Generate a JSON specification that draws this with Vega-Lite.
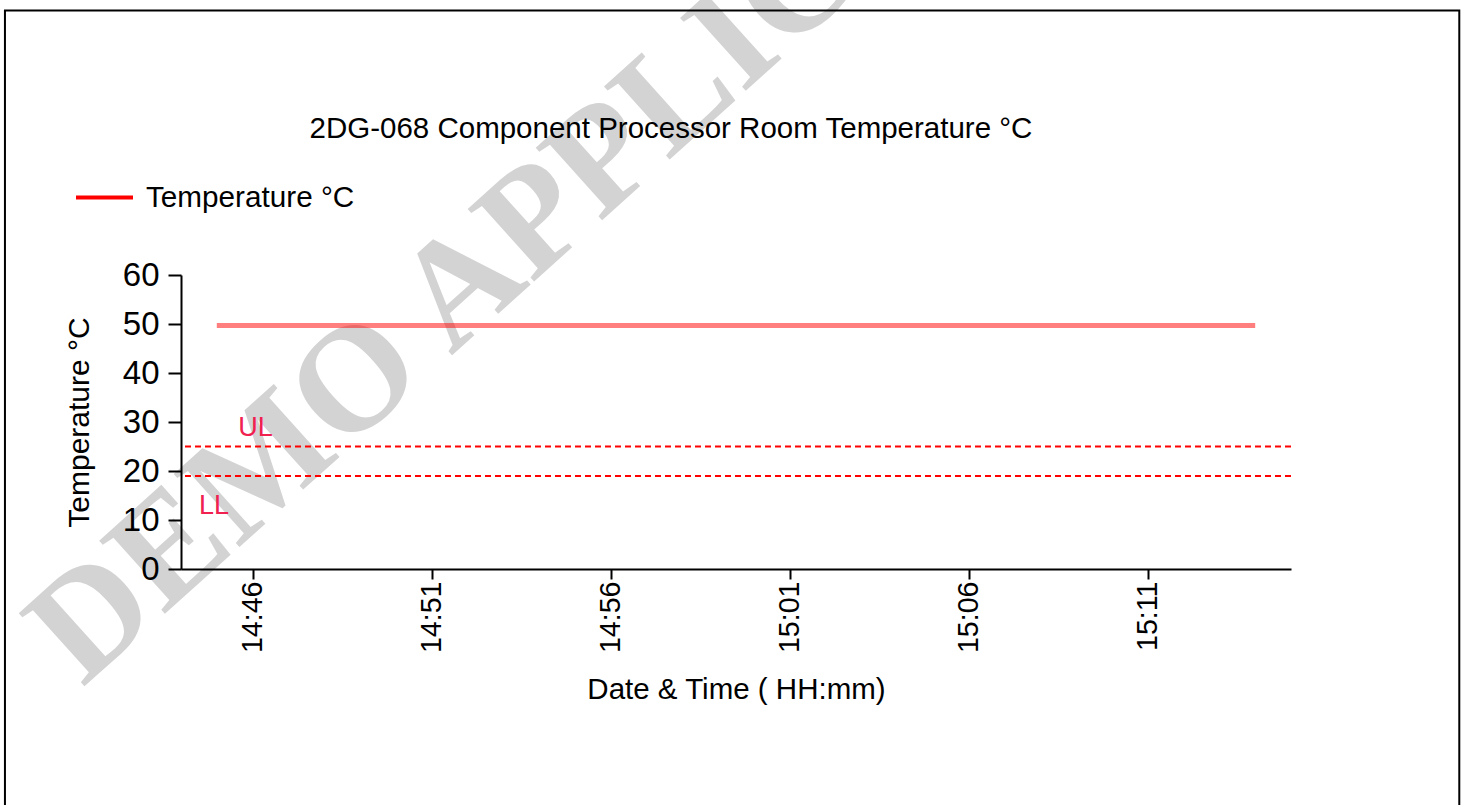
{
  "$schema": "https://vega.github.io/schema/vega-lite/v6.json",
  "width": 1110,
  "height": 294,
  "autosize": {"type": "none"},
  "padding": {"left": 181, "top": 275, "right": 175, "bottom": 236},
  "background": "white",
  "config": {
    "view": {"stroke": null},
    "font": "Liberation Sans",
    "axis": {
      "grid": false,
      "domainColor": "black",
      "domainWidth": 2,
      "tickColor": "black",
      "tickWidth": 2,
      "labelColor": "black",
      "titleColor": "black",
      "labelFont": "Liberation Sans",
      "titleFont": "Liberation Sans",
      "titleFontWeight": "normal"
    }
  },
  "datasets": {
    "temp": [
      {"time": "2024-01-01T14:45:00", "value": 49.7, "series": "Temperature °C"},
      {"time": "2024-01-01T14:46:00", "value": 49.7, "series": "Temperature °C"},
      {"time": "2024-01-01T14:47:00", "value": 49.7, "series": "Temperature °C"},
      {"time": "2024-01-01T14:48:00", "value": 49.7, "series": "Temperature °C"},
      {"time": "2024-01-01T14:49:00", "value": 49.7, "series": "Temperature °C"},
      {"time": "2024-01-01T14:50:00", "value": 49.7, "series": "Temperature °C"},
      {"time": "2024-01-01T14:51:00", "value": 49.7, "series": "Temperature °C"},
      {"time": "2024-01-01T14:52:00", "value": 49.7, "series": "Temperature °C"},
      {"time": "2024-01-01T14:53:00", "value": 49.7, "series": "Temperature °C"},
      {"time": "2024-01-01T14:54:00", "value": 49.7, "series": "Temperature °C"},
      {"time": "2024-01-01T14:55:00", "value": 49.7, "series": "Temperature °C"},
      {"time": "2024-01-01T14:56:00", "value": 49.7, "series": "Temperature °C"},
      {"time": "2024-01-01T14:57:00", "value": 49.7, "series": "Temperature °C"},
      {"time": "2024-01-01T14:58:00", "value": 49.7, "series": "Temperature °C"},
      {"time": "2024-01-01T14:59:00", "value": 49.7, "series": "Temperature °C"},
      {"time": "2024-01-01T15:00:00", "value": 49.7, "series": "Temperature °C"},
      {"time": "2024-01-01T15:01:00", "value": 49.7, "series": "Temperature °C"},
      {"time": "2024-01-01T15:02:00", "value": 49.7, "series": "Temperature °C"},
      {"time": "2024-01-01T15:03:00", "value": 49.7, "series": "Temperature °C"},
      {"time": "2024-01-01T15:04:00", "value": 49.7, "series": "Temperature °C"},
      {"time": "2024-01-01T15:05:00", "value": 49.7, "series": "Temperature °C"},
      {"time": "2024-01-01T15:06:00", "value": 49.7, "series": "Temperature °C"},
      {"time": "2024-01-01T15:07:00", "value": 49.7, "series": "Temperature °C"},
      {"time": "2024-01-01T15:08:00", "value": 49.7, "series": "Temperature °C"},
      {"time": "2024-01-01T15:09:00", "value": 49.7, "series": "Temperature °C"},
      {"time": "2024-01-01T15:10:00", "value": 49.7, "series": "Temperature °C"},
      {"time": "2024-01-01T15:11:00", "value": 49.7, "series": "Temperature °C"},
      {"time": "2024-01-01T15:12:00", "value": 49.7, "series": "Temperature °C"},
      {"time": "2024-01-01T15:13:00", "value": 49.7, "series": "Temperature °C"},
      {"time": "2024-01-01T15:14:00", "value": 49.7, "series": "Temperature °C"}
    ],
    "limits": [
      {"limit": "UL", "value": 25},
      {"limit": "LL", "value": 19}
    ]
  },
  "layer": [
    {
      "data": {"values": [{"watermark": "DEMO APPLICATION"}]},
      "mark": {
        "type": "text",
        "font": "Liberation Serif",
        "fontWeight": "bold",
        "fontSize": 150,
        "angle": -42,
        "align": "left",
        "baseline": "alphabetic",
        "color": "#d3d3d3"
      },
      "encoding": {
        "x": {"datum": {"year": 2024, "month": 1, "date": 1, "hours": 14, "minutes": 41, "seconds": 15}, "type": "temporal"},
        "y": {"datum": -24.3, "type": "quantitative"},
        "text": {"field": "watermark"}
      }
    },
    {
      "data": {"values": [{"frame": "border"}]},
      "mark": {"type": "rect", "filled": false, "stroke": "black", "strokeWidth": 2},
      "encoding": {
        "x": {"datum": {"year": 2024, "month": 1, "date": 1, "hours": 14, "minutes": 39, "seconds": 5}, "type": "temporal"},
        "x2": {"datum": {"year": 2024, "month": 1, "date": 1, "hours": 15, "minutes": 19, "seconds": 42}},
        "y": {"datum": 114, "type": "quantitative"},
        "y2": {"datum": -60}
      }
    },
    {
      "data": {"values": [{"title": "2DG-068 Component Processor Room Temperature °C"}]},
      "mark": {"type": "text", "align": "center", "baseline": "alphabetic", "fontSize": 29.5, "color": "black", "font": "Liberation Sans"},
      "encoding": {
        "x": {"datum": {"year": 2024, "month": 1, "date": 1, "hours": 14, "minutes": 57, "seconds": 41}, "type": "temporal"},
        "y": {"datum": 88, "type": "quantitative"},
        "text": {"field": "title"}
      }
    },
    {
      "data": {"name": "limits"},
      "mark": {"type": "rule", "color": "#ff0000", "strokeWidth": 2, "strokeDash": [6, 4]},
      "encoding": {
        "y": {"field": "value", "type": "quantitative"}
      }
    },
    {
      "data": {"name": "temp"},
      "mark": {"type": "line", "strokeWidth": 5, "opacity": 0.5},
      "encoding": {
        "x": {
          "field": "time",
          "type": "temporal",
          "scale": {
            "domain": [
              {"year": 2024, "month": 1, "date": 1, "hours": 14, "minutes": 44},
              {"year": 2024, "month": 1, "date": 1, "hours": 15, "minutes": 15}
            ],
            "nice": false
          },
          "axis": {
            "zindex": 1,
            "title": "Date & Time ( HH:mm)",
            "titleFontSize": 29.5,
            "titlePadding": 23,
            "format": "%H:%M",
            "labelAngle": 270,
            "labelFontSize": 28.6,
            "labelPadding": 2,
            "tickSize": 10,
            "values": [
              {"year": 2024, "month": 1, "date": 1, "hours": 14, "minutes": 46},
              {"year": 2024, "month": 1, "date": 1, "hours": 14, "minutes": 51},
              {"year": 2024, "month": 1, "date": 1, "hours": 14, "minutes": 56},
              {"year": 2024, "month": 1, "date": 1, "hours": 15, "minutes": 1},
              {"year": 2024, "month": 1, "date": 1, "hours": 15, "minutes": 6},
              {"year": 2024, "month": 1, "date": 1, "hours": 15, "minutes": 11}
            ]
          }
        },
        "y": {
          "field": "value",
          "type": "quantitative",
          "scale": {"domain": [0, 60], "nice": false},
          "axis": {
            "zindex": 1,
            "title": "Temperature °C",
            "titleFontSize": 30,
            "titlePadding": 28,
            "labelFontSize": 33,
            "labelPadding": 9,
            "tickSize": 13,
            "values": [0, 10, 20, 30, 40, 50, 60]
          }
        },
        "color": {
          "field": "series",
          "type": "nominal",
          "scale": {"domain": ["Temperature °C"], "range": ["#ff0000"]},
          "legend": {
            "orient": "none",
            "legendX": -107,
            "legendY": -108,
            "title": null,
            "symbolType": "stroke",
            "symbolSize": 3249,
            "symbolStrokeWidth": 4,
            "symbolOpacity": 1,
            "labelFont": "Liberation Sans",
            "labelFontSize": 29.7,
            "labelColor": "black",
            "labelOffset": 11,
            "labelLimit": 0
          }
        }
      }
    },
    {
      "data": {"name": "limits"},
      "transform": [{"filter": "datum.limit === 'UL'"}],
      "mark": {"type": "text", "align": "left", "baseline": "alphabetic", "dy": -11, "fontSize": 27, "color": "#f0204f", "font": "Liberation Sans"},
      "encoding": {
        "x": {"datum": {"year": 2024, "month": 1, "date": 1, "hours": 14, "minutes": 45, "seconds": 36}, "type": "temporal"},
        "y": {"field": "value", "type": "quantitative"},
        "text": {"field": "limit"}
      }
    },
    {
      "data": {"name": "limits"},
      "transform": [{"filter": "datum.limit === 'LL'"}],
      "mark": {"type": "text", "align": "left", "baseline": "alphabetic", "dy": 38, "fontSize": 27, "color": "#f0204f", "font": "Liberation Sans"},
      "encoding": {
        "x": {"datum": {"year": 2024, "month": 1, "date": 1, "hours": 14, "minutes": 44, "seconds": 30}, "type": "temporal"},
        "y": {"field": "value", "type": "quantitative"},
        "text": {"field": "limit"}
      }
    }
  ]
}
